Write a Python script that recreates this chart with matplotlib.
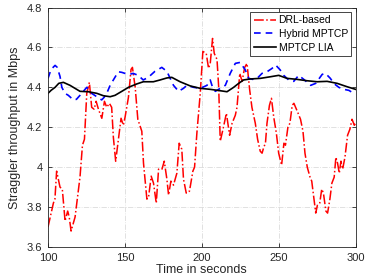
import matplotlib
matplotlib.use("Agg")
import matplotlib.pyplot as plt
import numpy as np

plt.rcParams['font.family'] = ['Liberation Sans', 'DejaVu Sans']

# DRL-based (red dash-dot)
drl_t = [100, 103.5, 104.5, 105.6, 107.8, 109.3, 111.1, 112.8, 113.8, 115, 117.6, 120.8,
         122.4, 123.7, 125.2, 126.9, 128.4, 130, 131.3, 132.8, 135, 136.7, 138.2, 139.9,
         141.4, 142.5, 144, 145.8, 147.5, 149, 150.1, 152.3, 154, 154.9, 156.7, 158.4,
         161, 162.1, 164.3, 165.4, 167.1, 168.6, 170.4, 171.9, 174.1, 175.6, 177.3, 178.4,
         179.9, 181.6, 183.8, 185.3, 187, 188.1, 189.9, 192, 194.2, 195.3, 196.8, 199,
         200.7, 202.9, 204.4, 205.5, 207, 208.1, 209.9, 211, 212, 213.8, 216, 218.1,
         219.7, 221.8, 222.9, 224.7, 226.2, 227.9, 229.4, 231.1, 232.6, 234.8, 236.3, 238,
         239.2, 240.3, 241.4, 242.4, 244, 245.3, 246.8, 248.5, 250, 251.9, 253.4, 254.4,
         256, 257.3, 258.8, 259.9, 262.1, 264.2, 265.8, 267.1, 268.6, 270.4, 271.5, 273,
         274.1, 275.2, 276.7, 278, 279.1, 280.7, 281.8, 283.3, 284.6, 286.1, 287.2, 288.3,
         289.4, 290.5, 291.6, 293.1, 294.8, 296.3, 297.7, 299.2, 300]
drl_v = [3.70, 3.82, 3.84, 3.98, 3.90, 3.89, 3.73, 3.78, 3.75, 3.68, 3.75, 3.95,
         4.11, 4.14, 4.37, 4.425, 4.30, 4.29, 4.33, 4.29, 4.245, 4.33, 4.30, 4.32,
         4.30, 4.15, 4.03, 4.14, 4.245, 4.21, 4.25, 4.35, 4.49, 4.50, 4.40, 4.24,
         4.18, 4.02, 3.84, 3.85, 3.955, 3.92, 3.82, 3.99, 3.99, 4.03, 3.94, 3.86,
         3.93, 3.91, 3.97, 4.12, 4.09, 3.94, 3.87, 3.88, 3.98, 4.00, 4.17, 4.37,
         4.58, 4.57, 4.495, 4.52, 4.645, 4.57, 4.54, 4.40, 4.13, 4.19, 4.27, 4.16,
         4.22, 4.26, 4.30, 4.47, 4.43, 4.50, 4.52, 4.39, 4.30, 4.22, 4.14, 4.08,
         4.07, 4.10, 4.12, 4.22, 4.31, 4.345, 4.25, 4.17, 4.07, 4.01, 4.12, 4.11,
         4.20, 4.22, 4.31, 4.32, 4.28, 4.24, 4.18, 4.07, 4.00, 3.95, 3.93, 3.84,
         3.77, 3.81, 3.82, 3.89, 3.87, 3.78, 3.77, 3.84, 3.92, 3.95, 4.05, 4.02,
         3.97, 4.03, 3.99, 4.05, 4.16, 4.19, 4.24, 4.21, 4.22]

# Hybrid MPTCP (blue dashed)
hyb_t = [100, 102, 104.6, 106, 107.8, 109, 111, 113.2, 116.5, 118.5, 120.8, 123, 125.2,
         127, 128.4, 131.7, 134.9, 136.5, 138.2, 140.4, 142.5, 145.7, 148, 150, 153, 155.4,
         158.7, 161.9, 165.2, 169.5, 174, 177.3, 181.6, 184.9, 188.1, 190.3, 194.7, 199,
         203.4, 205.5, 207, 208.8, 212, 215.3, 218.5, 221.8, 225, 228.3, 230.5, 233, 236,
         239.2, 242.4, 245.7, 248, 251, 253.3, 256.5, 259.8, 263, 266.3, 270.8, 274.1,
         278.3, 280.4, 283.6, 285.8, 289.1, 292.3, 295.6, 298.8, 300]
hyb_v = [4.445, 4.49, 4.51, 4.50, 4.455, 4.40, 4.37, 4.36, 4.337, 4.34, 4.36, 4.38, 4.40,
         4.385, 4.37, 4.353, 4.337, 4.35, 4.37, 4.41, 4.437, 4.478, 4.475, 4.47, 4.465, 4.47,
         4.46, 4.437, 4.45, 4.48, 4.50, 4.48, 4.41, 4.38, 4.395, 4.41, 4.40, 4.395,
         4.41, 4.437, 4.40, 4.38, 4.395, 4.41, 4.47, 4.52, 4.525, 4.487, 4.445, 4.44, 4.445,
         4.47, 4.478, 4.495, 4.512, 4.487, 4.46, 4.437, 4.43, 4.46, 4.44, 4.41, 4.42,
         4.465, 4.47, 4.445, 4.42, 4.40, 4.39, 4.385, 4.37, 4.365]

# MPTCP LIA (black solid)
lia_t = [100, 102, 104.6, 107, 110, 114.3, 120.8, 126.2, 131.7, 136, 140.4, 143.6, 148,
         152.3, 157.7, 162, 168.5, 172.9, 177.3, 180.5, 185.9, 192.5, 199, 205.5, 212,
         216.4, 220.7, 224, 227.2, 231.6, 238.1, 244.6, 250, 255.4, 261.9, 268.5, 275,
         281.5, 288, 294.5, 300]
lia_v = [4.37, 4.385, 4.40, 4.42, 4.425, 4.41, 4.38, 4.378, 4.37, 4.358, 4.353, 4.36, 4.38,
         4.40, 4.417, 4.428, 4.428, 4.437, 4.447, 4.45, 4.428, 4.407, 4.395, 4.39, 4.383,
         4.378, 4.40, 4.42, 4.437, 4.442, 4.445, 4.453, 4.46, 4.445, 4.44, 4.433, 4.428,
         4.43, 4.42, 4.403, 4.39]

labels = ['DRL-based', 'Hybrid MPTCP', 'MPTCP LIA']
xticks = [100, 150, 200, 250, 300]
yticks = [3.6, 3.8, 4.0, 4.2, 4.4, 4.6, 4.8]
ytick_labels = ['3.6', '3.8', '4', '4.2', '4.4', '4.6', '4.8']

fig = plt.figure(figsize=(3.71, 2.78), dpi=100)
ax = fig.add_axes([0.1294, 0.1115, 0.8290, 0.8615])

ax.plot(drl_t, drl_v, color='red', linestyle='-.', linewidth=1.1, label=labels[0])
ax.plot(hyb_t, hyb_v, color='blue', linestyle=(0, (4, 3)), linewidth=1.2, label=labels[1])
ax.plot(lia_t, lia_v, color='black', linestyle='-', linewidth=1.2, label=labels[2])

ax.set_xlim(100, 300)
ax.set_ylim(3.6, 4.8)
ax.set_xticks(xticks)
ax.set_yticks(yticks)
ax.set_yticklabels(ytick_labels)
ax.grid(True, linestyle='-.', color='#dcdcdc', linewidth=0.6)
ax.set_axisbelow(True)
ax.tick_params(direction='in', length=3, width=0.6, labelsize=8, colors='#262626',
               top=True, right=True, pad=4)
for s in ax.spines.values():
    s.set_color('#262626')
    s.set_linewidth(0.6)

ax.set_xlabel('Time in seconds', fontsize=9, labelpad=1, color='#262626')
ax.set_ylabel('Straggler throughput in Mbps', fontsize=9, labelpad=4, color='#262626')

leg = ax.legend(loc='upper right', fontsize=7.5, frameon=True, fancybox=False,
                edgecolor='#262626', framealpha=1, handlelength=2.2, handletextpad=0.2,
                labelspacing=0.35, borderpad=0.3, borderaxespad=0.45)
leg.get_frame().set_linewidth(0.6)

fig.savefig('out.png', dpi=100)
